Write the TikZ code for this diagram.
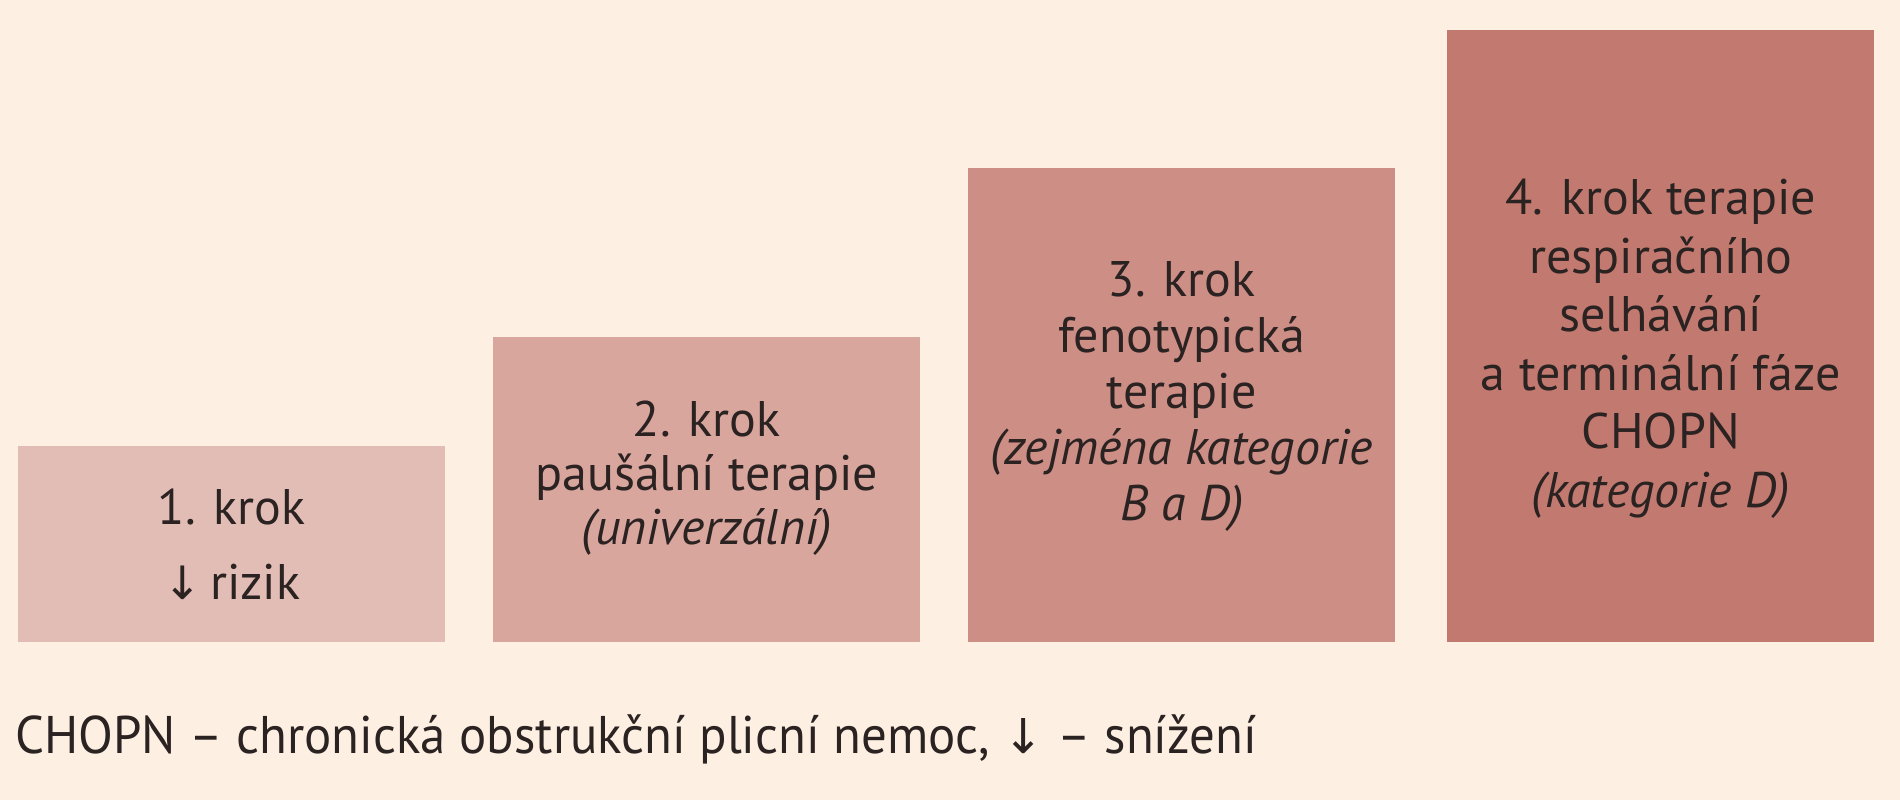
\documentclass[tikz,border=0pt]{standalone}
\usepackage{fontspec}
\setmainfont{PT Sans}
\newfontfamily\notefont[FakeStretch=0.96]{PT Sans}
\newfontfamily\arrowfont{DejaVu Sans}
\definecolor{bgc}{HTML}{FDF0E3}
\definecolor{cA}{HTML}{E2BDB5}
\definecolor{cB}{HTML}{D9A69E}
\definecolor{cC}{HTML}{CD8E86}
\definecolor{cD}{HTML}{C27A70}
\definecolor{txt}{HTML}{2B2222}
\begin{document}
\begin{tikzpicture}[x=1pt,y=1pt]
\useasboundingbox (0,0) rectangle (1900,800);
\fill[bgc] (0,0) rectangle (1900,800);
\tikzset{
  stepbox/.style={anchor=south west, inner sep=0pt, minimum width=427pt},
  steptext/.style={inner sep=0pt, align=center, text=txt, font=\fontsize{50}{57}\selectfont},
  note/.style={anchor=base west, inner sep=0pt, text=txt, font=\notefont\fontsize{53}{64}\selectfont}
}
\node[stepbox, fill=cA, minimum height=196pt] (s1) at (18,158) {};
\node[stepbox, fill=cB, minimum height=305pt] (s2) at (493,158) {};
\node[stepbox, fill=cC, minimum height=474pt] (s3) at (968,158) {};
\node[stepbox, fill=cD, minimum height=612pt] (s4) at (1447,158) {};
\node[steptext, font=\fontsize{50}{75}\selectfont] (t1) at (s1.center)
  {1. krok\\{\arrowfont\fontsize{46}{75}\selectfont ↓}\,rizik};
\node[steptext, font=\fontsize{50}{54}\selectfont] (t2) at ([yshift=11pt]s2.center)
  {2. krok\\paušální terapie\\\textit{(univerzální)}};
\node[steptext, font=\fontsize{50}{56}\selectfont] (t3) at ([yshift=8pt]s3.center)
  {3. krok\\fenotypická\\terapie\\\textit{(zejména kategorie}\\\textit{B a D)}};
\node[steptext, font=\fontsize{50}{58.5}\selectfont] (t4) at ([yshift=-13pt]s4.center)
  {4. krok terapie\\respiračního\\selhávání\\a terminální fáze\\CHOPN\\\textit{(kategorie D)}};
\node[note] (legend) at (15,46)
  {CHOPN – chronická obstrukční plicní nemoc, {\arrowfont\fontsize{48}{64}\selectfont ↓} – snížení};
\end{tikzpicture}
\end{document}
